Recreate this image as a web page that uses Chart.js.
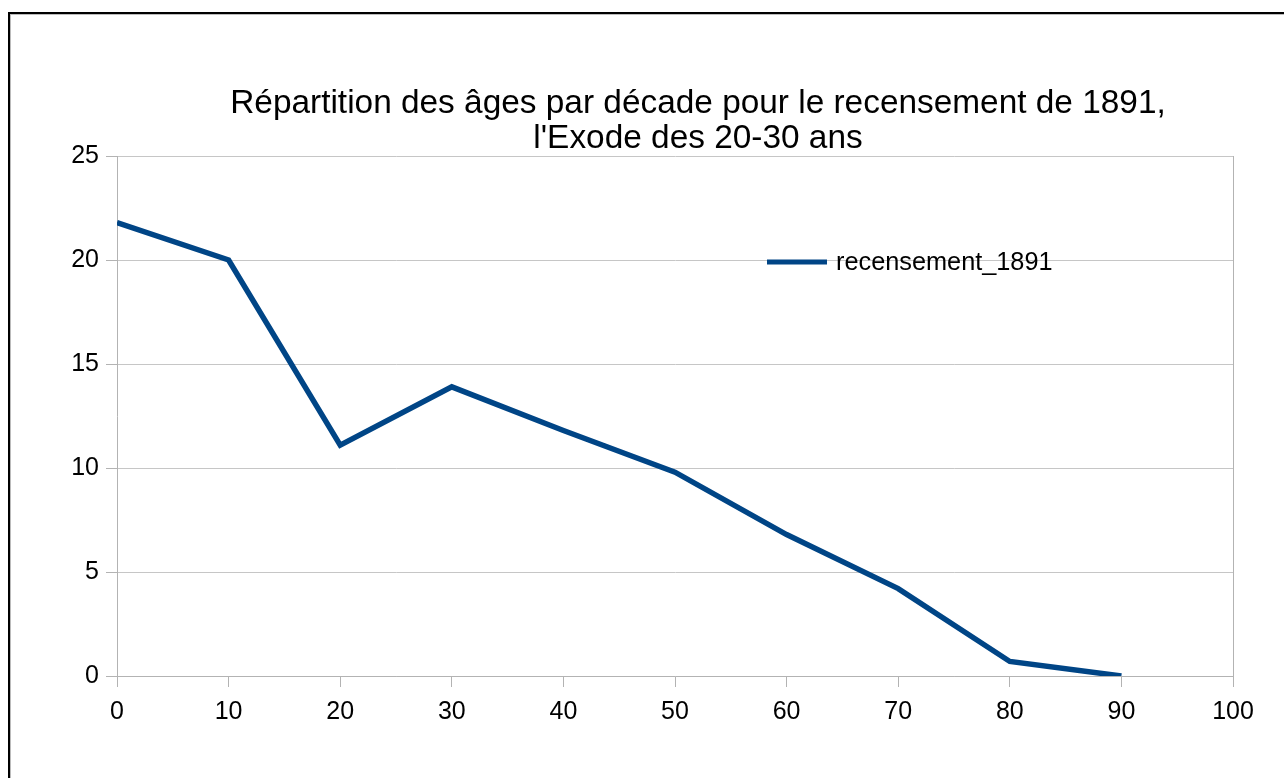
<!DOCTYPE html>
<html lang="fr">
<head>
<meta charset="utf-8">
<title>Répartition des âges par décade, recensement de 1891</title>
<script src="https://cdn.jsdelivr.net/npm/chart.js@4/dist/chart.umd.min.js"></script>
<style>
	html, body { margin: 0; padding: 0; background: #fff; }
	#wrap { position: relative; width: 1284px; height: 778px; overflow: hidden; }
	#frame { position: absolute; left: 8px; top: 12px; width: 1400px; height: 900px; border-left: 2px solid #000; border-top: 2px solid #000; box-shadow: 1px 1px 0 #bbb inset; }
	#box { position: absolute; left: 0; top: 0; width: 1284px; height: 778px; }
</style>
</head>
<body>
<div id="wrap">
	<div id="frame"></div>
	<div id="box"><canvas id="chart"></canvas></div>
</div>
<script>
// Valeurs (pourcentage par décade d'âge).
const ages = [ 0, 10, 20, 30, 40, 50, 60, 70, 80, 90 ];
const recensement1891 = [ 21.8, 20.0, 11.1, 13.9, 11.8, 9.8, 6.8, 4.2, 0.7, 0 ];
const titleLines = [ 'Répartition des âges par décade pour le recensement de 1891,', 'l\'Exode des 20-30 ans' ];
const seriesName = 'recensement_1891';

const FONT = '"Liberation Sans", Arial, sans-serif';
const AXIS = '#b3b3b3';
const GRID = '#c6c6c6';
const BLUE = '#004586';

// Titre centré comme dans l'original (légèrement à droite du centre du tracé).
const titlePlugin = {
	id: 'lineTitle',
	afterDraw( chart ) {
		const ctx = chart.ctx;
		ctx.save();
		ctx.fillStyle = '#000';
		ctx.font = '33.4px ' + FONT;
		ctx.textAlign = 'center';
		ctx.textBaseline = 'alphabetic';
		ctx.fillText( titleLines[ 0 ], 698, 113 );
		ctx.fillText( titleLines[ 1 ], 698, 148 );
		ctx.restore();
	},
};

// Légende posée dans la zone de tracé.
const legendPlugin = {
	id: 'innerLegend',
	afterDraw( chart ) {
		const ctx = chart.ctx;
		const ds = chart.data.datasets[ 0 ];
		ctx.save();
		ctx.strokeStyle = ds.borderColor;
		ctx.lineWidth = 5;
		ctx.beginPath();
		ctx.moveTo( 767, 262 );
		ctx.lineTo( 827, 262 );
		ctx.stroke();
		ctx.fillStyle = '#000';
		ctx.font = '25.3px ' + FONT;
		ctx.textAlign = 'left';
		ctx.textBaseline = 'middle';
		ctx.fillText( ds.label, 836, 263 );
		ctx.restore();
	},
};

new Chart( document.getElementById( 'chart' ), {
	type: 'line',
	data: {
		datasets: [ {
			label: seriesName,
			data: ages.map( ( a, i ) => ( { x: a, y: recensement1891[ i ] } ) ),
			borderColor: BLUE,
			backgroundColor: BLUE,
			borderWidth: 5.5,
			borderJoinStyle: 'miter',
			tension: 0,
			pointRadius: 0,
			fill: false,
		} ],
	},
	options: {
		responsive: true,
		maintainAspectRatio: false,
		animation: false,
		layout: { padding: { left: 10, top: 156, right: 51, bottom: 42 } },
		plugins: {
			legend: { display: false },
			title: { display: false },
			tooltip: { enabled: false },
		},
		scales: {
			x: {
				type: 'linear',
				min: 0,
				max: 100,
				afterFit: ( s ) => { s.height = 60; },
				border: { display: true, color: AXIS, width: 1 },
				grid: {
					drawOnChartArea: true,
					color: ( c ) => ( c.tick && c.tick.value === 100 ? AXIS : 'rgba(0,0,0,0)' ),
					tickColor: AXIS,
					tickLength: 11,
				},
				ticks: { stepSize: 10, padding: 10, color: '#000', font: { family: FONT, size: 25 } },
			},
			y: {
				min: 0,
				max: 25,
				afterFit: ( s ) => { s.width = 107; },
				border: { display: true, color: AXIS, width: 1 },
				grid: { color: GRID, tickColor: AXIS, tickLength: 11 },
				ticks: { stepSize: 5, padding: 7, color: '#000', font: { family: FONT, size: 25 } },
			},
		},
	},
	plugins: [ titlePlugin, legendPlugin ],
} );
</script>
</body>
</html>
